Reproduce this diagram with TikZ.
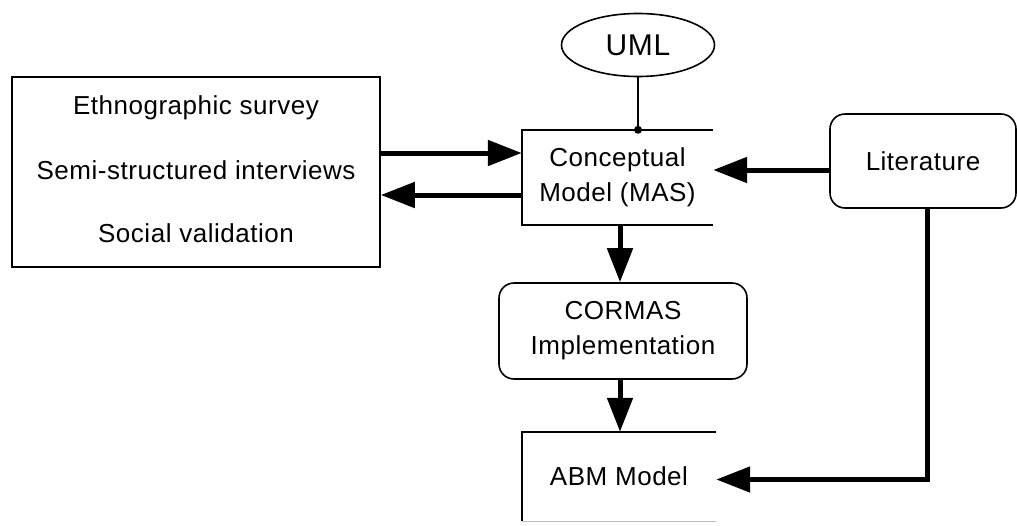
\documentclass[tikz,border=0pt]{standalone}
\usepackage{fontspec}
\setmainfont[LetterSpace=2]{Liberation Sans}
\usetikzlibrary{shapes.geometric,arrows.meta,calc}
\begin{document}
\begin{tikzpicture}[x=1pt,y=-1pt,
  txt/.style={font=\fontsize{26}{35}\selectfont, align=center, inner sep=0pt},
  thin line/.style={line width=1.6pt},
  fat/.style={line width=5pt, -{Triangle[length=34pt,width=25pt]}},
  fatline/.style={line width=5pt}]
\useasboundingbox (0,0) rectangle (1017,525);
% nodes
\node[draw, thin line, minimum width=368pt, minimum height=190pt, inner sep=0pt] (left) at (196,172) {};
\node[txt] (t1) at (196,108) {Ethnographic survey};
\node[txt] (t2) at (196,170) {Semi-structured interviews};
\node[txt] (t3) at (196,233) {Social validation};
\node[txt, minimum width=191pt, minimum height=95pt] (cm) at (617.5,177.5) {Conceptual\\Model (MAS)};
\draw[thin line] (cm.north east) -- (cm.north west) -- (cm.south west) -- (cm.south east);
\node[draw, thin line, ellipse, minimum width=153pt, minimum height=63pt, inner sep=0pt,
      font=\fontsize{30}{32}\selectfont] (uml) at (638,45) {UML};
\node[draw, thin line, rounded corners=15pt, minimum width=248pt, minimum height=96pt, txt] (cormas) at (623,331) {CORMAS\\Implementation};
\node[draw, thin line, rounded corners=15pt, minimum width=186pt, minimum height=94pt, txt] (lit) at (923,161) {Literature};
\node[txt, minimum width=194pt, minimum height=89pt] (abm) at (619,476.5) {ABM Model};
\draw[thin line] (abm.north east) -- (abm.north west) -- (abm.south west);
\draw[line width=1pt, black!25] (abm.south west) -- (abm.south east);
% connectors
\coordinate (umlend) at (uml.south |- cm.north);
\draw[thin line] (uml.south) -- (umlend);
\fill (umlend) circle (4pt);
\draw[fat] (left.east |- 0,153) -- (cm.west |- 0,153);
\draw[fat] (cm.west |- 0,195) -- (left.east |- 0,195);
\draw[fat] ([yshift=-9pt]lit.west) -- ([yshift=-9pt]lit.west -| cm.east);
\draw[fat] (cm.south -| 620,0) -- (cormas.north -| 620,0);
\draw[fat] (cormas.south -| 620,0) -- (abm.north -| 620,0);
\draw[fat] ([xshift=4pt]lit.south) |- ([yshift=-3pt]abm.east);
\end{tikzpicture}
\end{document}
